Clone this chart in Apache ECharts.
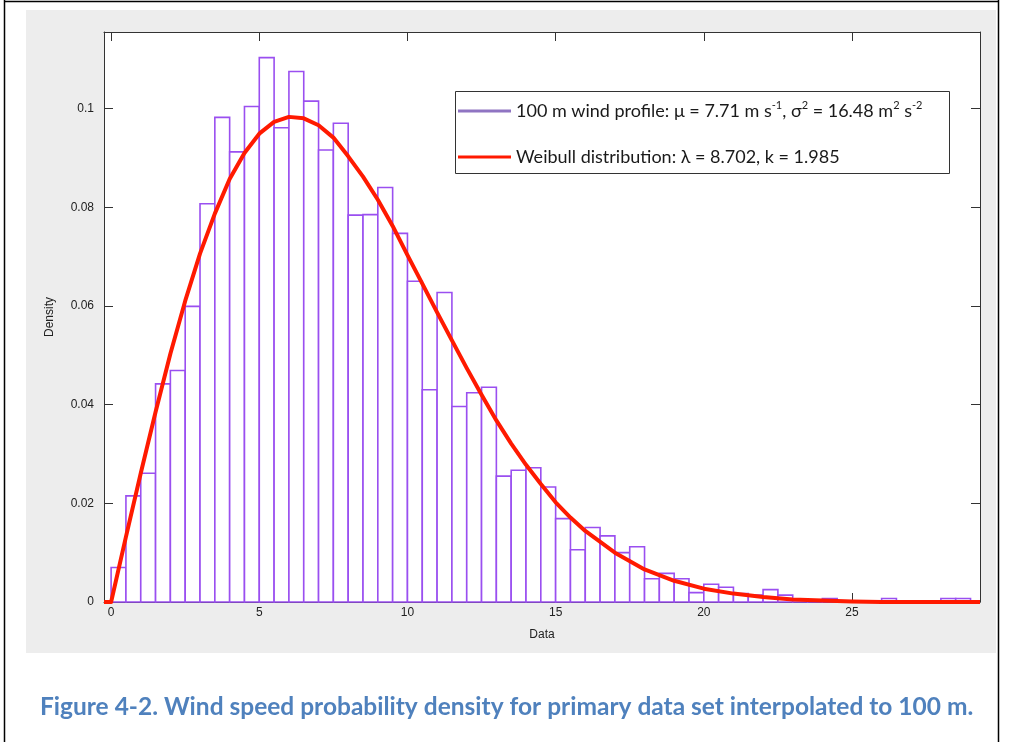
<!DOCTYPE html>
<html>
<head>
<meta charset="utf-8">
<script src="https://cdn.jsdelivr.net/npm/echarts@6/dist/echarts.min.js"></script>
<style>
html,body{margin:0;padding:0;background:#fff;}
#chart{width:1013px;height:742px;}
</style>
</head>
<body>
<div id="chart"></div>
<script>
// ---- Data ----
const histName = '100 m wind profile: \u03bc = 7.71 m s\u207b\u00b9, \u03c3\u00b2 = 16.48 m\u00b2 s\u207b\u00b2';
const fitName = 'Weibull distribution: \u03bb = 8.702, k = 1.985';
// legend label pieces (normal text / superscript)
const histLabelRich = '{n|100 m wind profile: \u03bc = 7.71 m s}{s|-1}{n|, \u03c3}{s|2}{n| = 16.48 m}{s|2}{n| s}{s|-2}';
const fitLabelRich = '{n|Weibull distribution: \u03bb = 8.702, k = 1.985}';

const binWidth = 0.5;
const binLeft = [
  0, 0.5, 1, 1.5, 2, 2.5, 3, 3.5, 4, 4.5,
  5, 5.5, 6, 6.5, 7, 7.5, 8, 8.5, 9, 9.5,
  10, 10.5, 11, 11.5, 12, 12.5, 13, 13.5, 14, 14.5,
  15, 15.5, 16, 16.5, 17, 17.5, 18, 18.5, 19, 19.5,
  20, 20.5, 21, 21.5, 22, 22.5, 23, 23.5, 24, 24.5,
  25, 25.5, 26, 26.5, 27, 27.5, 28, 28.5
];
const density = [
  0.0070, 0.0215, 0.0261, 0.0442, 0.0469, 0.0599, 0.0807, 0.0982, 0.0912, 0.1004,
  0.1103, 0.0961, 0.1075, 0.1015, 0.0916, 0.0970, 0.0784, 0.0785, 0.0840, 0.0747,
  0.0650, 0.0430, 0.0627, 0.0396, 0.0424, 0.0435, 0.0255, 0.0267, 0.0272, 0.0233,
  0.0169, 0.0106, 0.0151, 0.0134, 0.0100, 0.0112, 0.0047, 0.0058, 0.0047, 0.0019,
  0.0036, 0.0030, 0.0017, 0.0014, 0.0025, 0.0014, 0.0004, 0.0002, 0.0007, 0.0001,
  0, 0, 0.0007, 0, 0, 0, 0.0007, 0.0007
];

const fitX = [
  -0.24, 0, 0.5, 1, 1.5, 2, 2.5, 3, 3.5, 4, 4.5, 5, 5.5, 6, 6.5, 7, 7.5, 8, 8.5, 9,
  9.5, 10, 10.5, 11, 11.5, 12, 12.5, 13, 13.5, 14, 14.5, 15, 15.5, 16, 17, 18, 19, 20,
  21, 22, 23, 24, 25, 26, 29.32
];
const fitY = [
  0, 0, 0.0132, 0.0261, 0.0385, 0.0503, 0.0610, 0.0706, 0.0787, 0.0857, 0.0910, 0.0949,
  0.0973, 0.0983, 0.0980, 0.0966, 0.0941, 0.0903, 0.0862, 0.0815, 0.0762, 0.0703, 0.0645,
  0.0587, 0.0530, 0.0474, 0.0420, 0.0368, 0.0321, 0.0278, 0.0239, 0.0202, 0.0171, 0.0144,
  0.0100, 0.0066, 0.0043, 0.0027, 0.0017, 0.0010, 0.0005, 0.0003, 0.0001, 0, 0
];

const xTicks = [0, 5, 10, 15, 20, 25];
const yTicks = [0, 0.02, 0.04, 0.06, 0.08, 0.1];
const yTickLabels = ['0', '0.02', '0.04', '0.06', '0.08', '0.1'];
const xTitle = 'Data';
const yTitle = 'Density';
const caption = 'Figure 4-2. Wind speed probability density for primary data set interpolated to 100 m.';

// ---- Build chart ----
const histData = binLeft.map((l, i) => [l, l + binWidth, density[i]]);
const fitData = fitX.map((x, i) => [x, fitY[i]]);

const X_MIN = -0.24, X_MAX = 29.32, Y_MIN = 0, Y_MAX = 0.1155;
const axisColor = '#333';
const tickFont = {fontFamily: 'Liberation Sans', fontSize: 12, color: '#222'};

function xAxisCfg(pos, showLabel) {
  return {
    type: 'value', position: pos, min: X_MIN, max: X_MAX,
    axisLine: {show: true, onZero: false, lineStyle: {color: axisColor, width: 1}},
    axisTick: {show: true, inside: true, length: 9, customValues: xTicks, lineStyle: {color: axisColor}},
    axisLabel: Object.assign({show: showLabel, margin: 5, customValues: xTicks}, tickFont),
    splitLine: {show: false}
  };
}
function yAxisCfg(pos, showLabel) {
  return {
    type: 'value', position: pos, min: Y_MIN, max: Y_MAX,
    axisLine: {show: true, onZero: false, lineStyle: {color: axisColor, width: 1}},
    axisTick: {show: true, inside: true, length: 9, customValues: yTicks, lineStyle: {color: axisColor}},
    axisLabel: Object.assign({
      show: showLabel, margin: 10, customValues: yTicks,
      formatter: v => { const i = yTicks.findIndex(t => Math.abs(t - v) < 1e-9); return i >= 0 ? yTickLabels[i] : ''; }
    }, tickFont),
    splitLine: {show: false}
  };
}

const xBottom = xAxisCfg('bottom', true);
xBottom.name = xTitle;
xBottom.nameLocation = 'middle';
xBottom.nameGap = 27;
xBottom.nameTextStyle = {fontFamily: 'Liberation Sans', fontSize: 12, color: '#222'};
const yLeft = yAxisCfg('left', true);
yLeft.name = yTitle;
yLeft.nameLocation = 'middle';
yLeft.nameGap = 48;
yLeft.nameTextStyle = {fontFamily: 'Liberation Sans', fontSize: 12, color: '#222'};

const chart = echarts.init(document.getElementById('chart'), null, {renderer: 'canvas'});
chart.setOption({
  animation: false,
  backgroundColor: '#ffffff',
  title: {
    text: caption, left: 35, top: 690,
    textStyle: {fontFamily: 'Lato', fontWeight: 'bold', fontSize: 24.5, color: '#4f81bd'}
  },
  grid: {left: 104, top: 32, width: 876, height: 570, show: true, backgroundColor: '#ffffff', borderWidth: 0},
  xAxis: [xBottom, xAxisCfg('top', false)],
  yAxis: [yLeft, yAxisCfg('right', false)],
  legend: {
    orient: 'vertical', left: 458, top: 100, padding: 0,
    itemWidth: 53, itemHeight: 3, itemGap: 24,
    formatter: name => (name === histName ? histLabelRich : fitLabelRich),
    textStyle: {
      fontFamily: 'Lato', fontSize: 18, color: '#1a1a1a', lineHeight: 22,
      rich: {
        n: {fontFamily: 'Lato', fontSize: 18, color: '#1a1a1a', lineHeight: 22},
        s: {fontFamily: 'Lato', fontSize: 11, color: '#1a1a1a', lineHeight: 12, verticalAlign: 'top'}
      }
    },
    data: [
      {name: histName, icon: 'rect', itemStyle: {color: '#8f74c2', borderWidth: 0}},
      {name: fitName, icon: 'rect', itemStyle: {color: '#ff1a00', borderWidth: 0}}
    ],
    z: 10
  },
  graphic: [
    {type: 'rect', z: -100, shape: {x: 26, y: 10, width: 970, height: 643}, style: {fill: '#ededed'}, silent: true},
    {type: 'line', z: 50, shape: {x1: 4.5, y1: 0, x2: 4.5, y2: 742}, style: {stroke: '#000', lineWidth: 1.5}},
    {type: 'line', z: 50, shape: {x1: 4, y1: 1.5, x2: 999, y2: 1.5}, style: {stroke: '#000', lineWidth: 1.5}},
    {type: 'line', z: 50, shape: {x1: 998.5, y1: 0, x2: 998.5, y2: 742}, style: {stroke: '#000', lineWidth: 1.5}},
    {type: 'rect', z: 9, shape: {x: 455.5, y: 91.5, width: 494, height: 82}, style: {fill: '#fff', stroke: '#333', lineWidth: 1}}
  ],
  series: [
    {
      name: histName, type: 'custom', xAxisIndex: 0, yAxisIndex: 0, z: 2,
      data: histData,
      encode: {x: [0, 1], y: 2},
      renderItem: function (params, api) {
        const p0 = api.coord([api.value(0), api.value(2)]);
        const p1 = api.coord([api.value(1), 0]);
        return {
          type: 'rect',
          shape: {x: p0[0], y: p0[1], width: p1[0] - p0[0], height: p1[1] - p0[1]},
          style: {fill: '#ffffff', stroke: '#9a4ff0', lineWidth: 1.6}
        };
      }
    },
    {
      name: fitName, type: 'line', xAxisIndex: 0, yAxisIndex: 0, z: 3,
      data: fitData, showSymbol: false, symbol: 'none',
      smooth: false,
      lineStyle: {color: '#ff1a00', width: 4, join: 'round'},
      itemStyle: {color: '#ff1a00'}
    }
  ]
});
</script>
</body>
</html>
